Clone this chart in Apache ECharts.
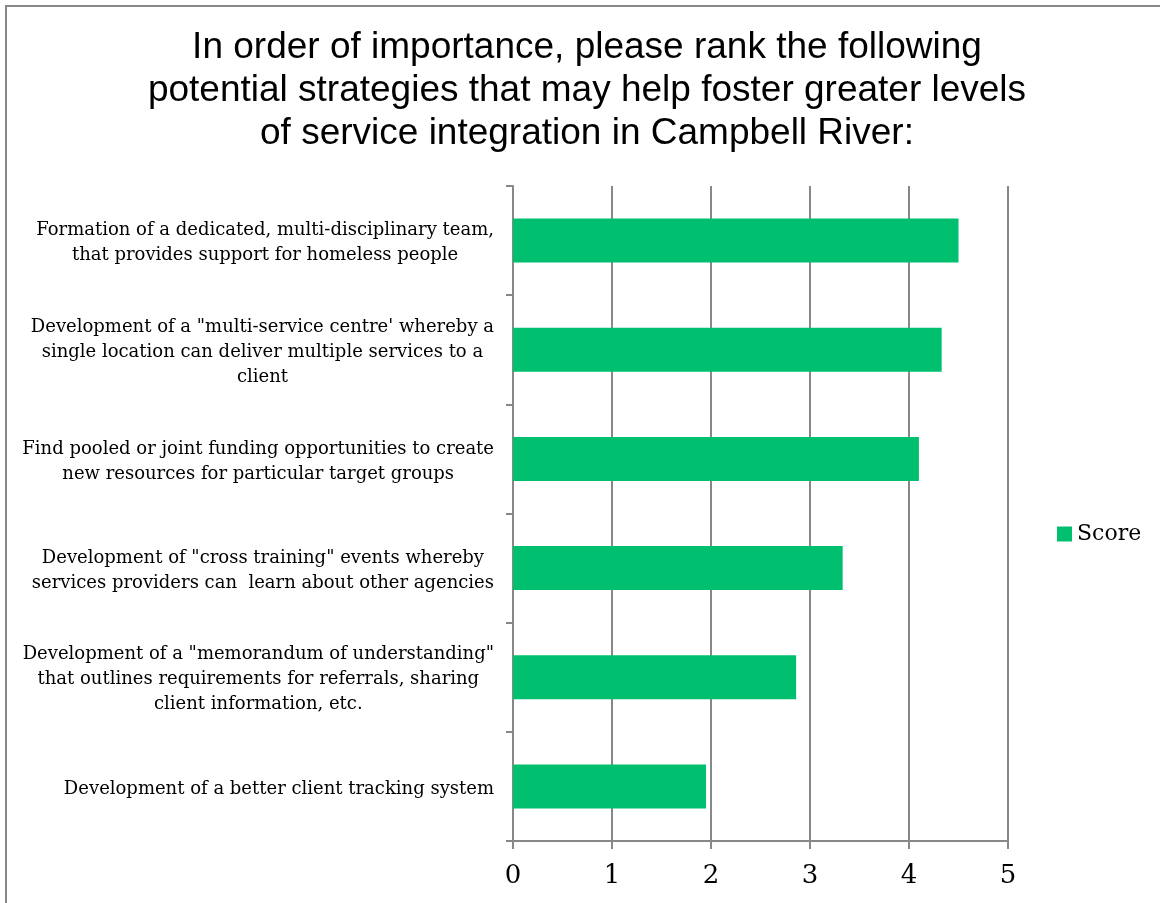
<!DOCTYPE html>
<html>
<head>
<meta charset="utf-8">
<script src="https://cdn.jsdelivr.net/npm/echarts@6/dist/echarts.min.js"></script>
<style>
    body { margin: 0; overflow: hidden; background: #fff; }
    #chart { position: absolute; left: 0; top: 0; width: 1160px; height: 903px; }
    .frame {
        position: absolute; left: 5px; top: 5px; width: 1300px; height: 1000px;
        border-left: 2px solid #888; border-top: 2px solid #888;
        pointer-events: none;
    }
</style>
</head>
<body>
<div id="chart"></div>
<div class="frame"></div>
<script>
    // strategies, top to bottom as in the picture
    const categories = [
        'Formation of a dedicated, multi-disciplinary team,\nthat provides support for homeless people',
        'Development of a "multi-service centre\' whereby a\nsingle location can deliver multiple services to a\nclient',
        'Find pooled or joint funding opportunities to create\nnew resources for particular target groups',
        'Development of "cross training" events whereby\nservices providers can  learn about other agencies',
        'Development of a "memorandum of understanding"\nthat outlines requirements for referrals, sharing\nclient information, etc.',
        'Development of a better client tracking system'
    ];
    const scores = [4.5, 4.33, 4.1, 3.33, 2.86, 1.95];
    const seriesName = 'Score';
    const xTicks = [0, 5, 1]; // min, max, interval

    const serif = 'DejaVu Serif';
    const gray = '#888888';

    const chart = echarts.init(document.getElementById('chart'));
    chart.setOption({
        animation: false,
        backgroundColor: 'transparent',
        title: {
            text: 'In order of importance, please rank the following\npotential strategies that may help foster greater levels\nof service integration in Campbell River:',
            left: 587,
            textAlign: 'center',
            top: 26,
            padding: 0,
            textStyle: {
                fontFamily: 'Liberation Sans',
                fontSize: 37,
                fontWeight: 'normal',
                lineHeight: 43,
                color: '#000'
            }
        },
        legend: {
            data: [seriesName],
            left: 1057,
            top: 523,
            padding: 0,
            orient: 'vertical',
            icon: 'rect',
            itemWidth: 15,
            itemHeight: 15,
            textStyle: { fontFamily: serif, fontSize: 22, color: '#000' }
        },
        grid: { left: 513, right: 152, top: 186, bottom: 62, outerBoundsMode: 'none', containLabel: false },
        xAxis: {
            type: 'value',
            min: xTicks[0],
            max: xTicks[1],
            interval: xTicks[2],
            axisLine: { show: true, lineStyle: { color: gray, width: 2 } },
            axisTick: { show: true, length: 8, lineStyle: { color: gray, width: 2 } },
            splitLine: { show: true, lineStyle: { color: gray, width: 2 } },
            axisLabel: { margin: 22, fontFamily: serif, fontSize: 26, color: '#000' }
        },
        yAxis: {
            type: 'category',
            inverse: true,
            data: categories,
            axisLine: { show: true, lineStyle: { color: gray, width: 2 } },
            axisTick: { show: true, length: 7, lineStyle: { color: gray, width: 2 } },
            axisLabel: {
                margin: 19,
                color: '#000',
                padding: [5, 0, 0, 0],
                formatter: function (v) {
                    return v.split('\n').map(function (s) { return '{c|' + s + '}'; }).join('\n');
                },
                rich: {
                    c: { align: 'center', fontFamily: serif, fontSize: 18, lineHeight: 25, color: '#000' }
                }
            }
        },
        series: [{
            name: seriesName,
            type: 'bar',
            data: scores,
            barWidth: 44,
            itemStyle: { color: '#00BF6F' }
        }]
    });
</script>
</body>
</html>
